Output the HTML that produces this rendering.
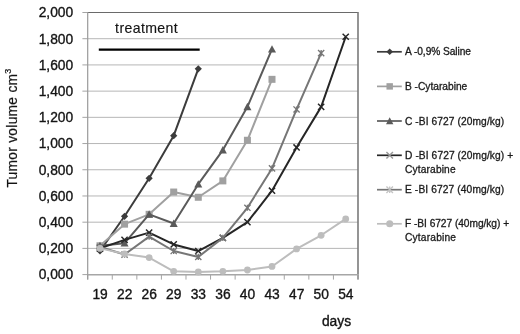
<!DOCTYPE html>
<html><head><meta charset="utf-8"><style>
html,body{margin:0;padding:0;background:#fff;}
body{width:520px;height:334px;overflow:hidden;}
svg{display:block;will-change:transform;filter:blur(0.35px);}
text{font-family:"Liberation Sans",sans-serif;fill:#141414;stroke:#141414;stroke-width:0.35px;}
.ax{font-size:13.8px;}
.lg{font-size:10.2px;fill:#1a1a1a;stroke:#1a1a1a;stroke-width:0.3px;}
.tr{font-size:14.1px;stroke-width:0.15px;}
.yt{font-size:13.8px;letter-spacing:0.27px;stroke-width:0.2px;}
</style></head><body>
<svg width="520" height="334" viewBox="0 0 520 334">
<rect width="520" height="334" fill="#fff"/>
<line x1="87.7" y1="248.39" x2="358.0" y2="248.39" stroke="#b6b6b6" stroke-width="1"/>
<line x1="87.7" y1="222.18" x2="358.0" y2="222.18" stroke="#b6b6b6" stroke-width="1"/>
<line x1="87.7" y1="195.97" x2="358.0" y2="195.97" stroke="#b6b6b6" stroke-width="1"/>
<line x1="87.7" y1="169.76" x2="358.0" y2="169.76" stroke="#b6b6b6" stroke-width="1"/>
<line x1="87.7" y1="143.55" x2="358.0" y2="143.55" stroke="#b6b6b6" stroke-width="1"/>
<line x1="87.7" y1="117.34" x2="358.0" y2="117.34" stroke="#b6b6b6" stroke-width="1"/>
<line x1="87.7" y1="91.13" x2="358.0" y2="91.13" stroke="#b6b6b6" stroke-width="1"/>
<line x1="87.7" y1="64.92" x2="358.0" y2="64.92" stroke="#b6b6b6" stroke-width="1"/>
<line x1="87.7" y1="38.71" x2="358.0" y2="38.71" stroke="#b6b6b6" stroke-width="1"/>
<line x1="82.4" y1="274.60" x2="87.7" y2="274.60" stroke="#a4a4a4" stroke-width="1"/>
<line x1="82.4" y1="248.39" x2="87.7" y2="248.39" stroke="#a4a4a4" stroke-width="1"/>
<line x1="82.4" y1="222.18" x2="87.7" y2="222.18" stroke="#a4a4a4" stroke-width="1"/>
<line x1="82.4" y1="195.97" x2="87.7" y2="195.97" stroke="#a4a4a4" stroke-width="1"/>
<line x1="82.4" y1="169.76" x2="87.7" y2="169.76" stroke="#a4a4a4" stroke-width="1"/>
<line x1="82.4" y1="143.55" x2="87.7" y2="143.55" stroke="#a4a4a4" stroke-width="1"/>
<line x1="82.4" y1="117.34" x2="87.7" y2="117.34" stroke="#a4a4a4" stroke-width="1"/>
<line x1="82.4" y1="91.13" x2="87.7" y2="91.13" stroke="#a4a4a4" stroke-width="1"/>
<line x1="82.4" y1="64.92" x2="87.7" y2="64.92" stroke="#a4a4a4" stroke-width="1"/>
<line x1="82.4" y1="38.71" x2="87.7" y2="38.71" stroke="#a4a4a4" stroke-width="1"/>
<line x1="82.4" y1="12.50" x2="87.7" y2="12.50" stroke="#a4a4a4" stroke-width="1"/>
<line x1="87.70" y1="274.6" x2="87.70" y2="279.6" stroke="#a4a4a4" stroke-width="1"/>
<line x1="112.27" y1="274.6" x2="112.27" y2="279.6" stroke="#a4a4a4" stroke-width="1"/>
<line x1="136.85" y1="274.6" x2="136.85" y2="279.6" stroke="#a4a4a4" stroke-width="1"/>
<line x1="161.42" y1="274.6" x2="161.42" y2="279.6" stroke="#a4a4a4" stroke-width="1"/>
<line x1="185.99" y1="274.6" x2="185.99" y2="279.6" stroke="#a4a4a4" stroke-width="1"/>
<line x1="210.56" y1="274.6" x2="210.56" y2="279.6" stroke="#a4a4a4" stroke-width="1"/>
<line x1="235.14" y1="274.6" x2="235.14" y2="279.6" stroke="#a4a4a4" stroke-width="1"/>
<line x1="259.71" y1="274.6" x2="259.71" y2="279.6" stroke="#a4a4a4" stroke-width="1"/>
<line x1="284.28" y1="274.6" x2="284.28" y2="279.6" stroke="#a4a4a4" stroke-width="1"/>
<line x1="308.85" y1="274.6" x2="308.85" y2="279.6" stroke="#a4a4a4" stroke-width="1"/>
<line x1="333.43" y1="274.6" x2="333.43" y2="279.6" stroke="#a4a4a4" stroke-width="1"/>
<line x1="358.00" y1="274.6" x2="358.00" y2="279.6" stroke="#a4a4a4" stroke-width="1"/>
<path d="M87.7 12.5H358.0" fill="none" stroke="#6a6a6a" stroke-width="1.1"/>
<path d="M358.0 12V274.6" fill="none" stroke="#7a7a7a" stroke-width="1.6"/>
<line x1="358.0" y1="274.6" x2="358.0" y2="279.6" stroke="#8a8a8a" stroke-width="1.4"/>
<line x1="87.7" y1="12" x2="87.7" y2="279.6" stroke="#999" stroke-width="1.2"/>
<line x1="87.7" y1="274.8" x2="358.0" y2="274.8" stroke="#a6a6a6" stroke-width="1.6"/>
<line x1="98.8" y1="49.6" x2="199.7" y2="49.6" stroke="#000" stroke-width="2.2"/>
<path d="M99.99 251.01 L124.56 216.28 L149.13 178.28 L173.70 135.69 L198.28 68.85" stroke="#3c3c3c" stroke-width="2" fill="none" stroke-linejoin="round"/>
<path d="M99.99 247.41L103.59 251.01L99.99 254.61L96.39 251.01Z" fill="#3c3c3c"/>
<path d="M124.56 212.68L128.16 216.28L124.56 219.88L120.96 216.28Z" fill="#3c3c3c"/>
<path d="M149.13 174.68L152.73 178.28L149.13 181.88L145.53 178.28Z" fill="#3c3c3c"/>
<path d="M173.70 132.09L177.30 135.69L173.70 139.29L170.10 135.69Z" fill="#3c3c3c"/>
<path d="M198.28 65.25L201.88 68.85L198.28 72.45L194.68 68.85Z" fill="#3c3c3c"/>
<path d="M99.99 245.77 L124.56 224.15 L149.13 214.32 L173.70 192.04 L198.28 197.28 L222.85 180.90 L247.42 140.27 L272.00 79.34" stroke="#a0a0a0" stroke-width="2" fill="none" stroke-linejoin="round"/>
<rect x="96.49" y="242.27" width="7.00" height="7.00" fill="#a0a0a0"/>
<rect x="121.06" y="220.65" width="7.00" height="7.00" fill="#a0a0a0"/>
<rect x="145.63" y="210.82" width="7.00" height="7.00" fill="#a0a0a0"/>
<rect x="170.20" y="188.54" width="7.00" height="7.00" fill="#a0a0a0"/>
<rect x="194.78" y="193.78" width="7.00" height="7.00" fill="#a0a0a0"/>
<rect x="219.35" y="177.40" width="7.00" height="7.00" fill="#a0a0a0"/>
<rect x="243.92" y="136.77" width="7.00" height="7.00" fill="#a0a0a0"/>
<rect x="268.50" y="75.84" width="7.00" height="7.00" fill="#a0a0a0"/>
<path d="M99.99 245.77 L124.56 243.15 L149.13 214.32 L173.70 223.49 L198.28 184.18 L222.85 150.10 L247.42 106.86 L272.00 49.19" stroke="#5a5a5a" stroke-width="2" fill="none" stroke-linejoin="round"/>
<path d="M99.99 241.77L103.99 249.17L95.99 249.17Z" fill="#5a5a5a"/>
<path d="M124.56 239.15L128.56 246.55L120.56 246.55Z" fill="#5a5a5a"/>
<path d="M149.13 210.32L153.13 217.72L145.13 217.72Z" fill="#5a5a5a"/>
<path d="M173.70 219.49L177.70 226.89L169.70 226.89Z" fill="#5a5a5a"/>
<path d="M198.28 180.18L202.28 187.58L194.28 187.58Z" fill="#5a5a5a"/>
<path d="M222.85 146.10L226.85 153.50L218.85 153.50Z" fill="#5a5a5a"/>
<path d="M247.42 102.86L251.42 110.26L243.42 110.26Z" fill="#5a5a5a"/>
<path d="M272.00 45.19L276.00 52.59L268.00 52.59Z" fill="#5a5a5a"/>
<path d="M99.99 248.39 L124.56 239.87 L149.13 232.66 L173.70 244.46 L198.28 251.01 L222.85 237.91 L247.42 222.18 L272.00 190.73 L296.57 147.48 L321.14 106.86 L345.71 36.74" stroke="#262626" stroke-width="2" fill="none" stroke-linejoin="round"/>
<path d="M96.89 245.29L103.09 251.49M103.09 245.29L96.89 251.49" stroke="#262626" stroke-width="1.45" fill="none"/>
<path d="M121.46 236.77L127.66 242.97M127.66 236.77L121.46 242.97" stroke="#262626" stroke-width="1.45" fill="none"/>
<path d="M146.03 229.56L152.23 235.76M152.23 229.56L146.03 235.76" stroke="#262626" stroke-width="1.45" fill="none"/>
<path d="M170.60 241.36L176.80 247.56M176.80 241.36L170.60 247.56" stroke="#262626" stroke-width="1.45" fill="none"/>
<path d="M195.18 247.91L201.38 254.11M201.38 247.91L195.18 254.11" stroke="#262626" stroke-width="1.45" fill="none"/>
<path d="M219.75 234.81L225.95 241.01M225.95 234.81L219.75 241.01" stroke="#262626" stroke-width="1.45" fill="none"/>
<path d="M244.32 219.08L250.52 225.28M250.52 219.08L244.32 225.28" stroke="#262626" stroke-width="1.45" fill="none"/>
<path d="M268.90 187.63L275.10 193.83M275.10 187.63L268.90 193.83" stroke="#262626" stroke-width="1.45" fill="none"/>
<path d="M293.47 144.38L299.67 150.58M299.67 144.38L293.47 150.58" stroke="#262626" stroke-width="1.45" fill="none"/>
<path d="M318.04 103.76L324.24 109.96M324.24 103.76L318.04 109.96" stroke="#262626" stroke-width="1.45" fill="none"/>
<path d="M342.61 33.64L348.81 39.84M348.81 33.64L342.61 39.84" stroke="#262626" stroke-width="1.45" fill="none"/>
<path d="M99.99 247.08 L124.56 254.55 L149.13 236.60 L173.70 251.01 L198.28 256.91 L222.85 237.91 L247.42 207.76 L272.00 168.45 L296.57 109.48 L321.14 53.13" stroke="#767676" stroke-width="2" fill="none" stroke-linejoin="round"/>
<path d="M96.89 243.98L103.09 250.18M103.09 243.98L96.89 250.18M99.99 243.98L99.99 250.18" stroke="#767676" stroke-width="1.35" fill="none"/>
<path d="M121.46 251.45L127.66 257.65M127.66 251.45L121.46 257.65M124.56 251.45L124.56 257.65" stroke="#767676" stroke-width="1.35" fill="none"/>
<path d="M146.03 233.50L152.23 239.70M152.23 233.50L146.03 239.70M149.13 233.50L149.13 239.70" stroke="#767676" stroke-width="1.35" fill="none"/>
<path d="M170.60 247.91L176.80 254.11M176.80 247.91L170.60 254.11M173.70 247.91L173.70 254.11" stroke="#767676" stroke-width="1.35" fill="none"/>
<path d="M195.18 253.81L201.38 260.01M201.38 253.81L195.18 260.01M198.28 253.81L198.28 260.01" stroke="#767676" stroke-width="1.35" fill="none"/>
<path d="M219.75 234.81L225.95 241.01M225.95 234.81L219.75 241.01M222.85 234.81L222.85 241.01" stroke="#767676" stroke-width="1.35" fill="none"/>
<path d="M244.32 204.66L250.52 210.86M250.52 204.66L244.32 210.86M247.42 204.66L247.42 210.86" stroke="#767676" stroke-width="1.35" fill="none"/>
<path d="M268.90 165.35L275.10 171.55M275.10 165.35L268.90 171.55M272.00 165.35L272.00 171.55" stroke="#767676" stroke-width="1.35" fill="none"/>
<path d="M293.47 106.38L299.67 112.58M299.67 106.38L293.47 112.58M296.57 106.38L296.57 112.58" stroke="#767676" stroke-width="1.35" fill="none"/>
<path d="M318.04 50.03L324.24 56.23M324.24 50.03L318.04 56.23M321.14 50.03L321.14 56.23" stroke="#767676" stroke-width="1.35" fill="none"/>
<path d="M99.99 248.39 L124.56 253.89 L149.13 257.56 L173.70 271.32 L198.28 271.98 L222.85 271.32 L247.42 270.01 L272.00 266.47 L296.57 248.91 L321.14 235.29 L345.71 218.90" stroke="#bdbdbd" stroke-width="2" fill="none" stroke-linejoin="round"/>
<circle cx="99.99" cy="248.39" r="3.40" fill="#bdbdbd"/>
<circle cx="124.56" cy="253.89" r="3.40" fill="#bdbdbd"/>
<circle cx="149.13" cy="257.56" r="3.40" fill="#bdbdbd"/>
<circle cx="173.70" cy="271.32" r="3.40" fill="#bdbdbd"/>
<circle cx="198.28" cy="271.98" r="3.40" fill="#bdbdbd"/>
<circle cx="222.85" cy="271.32" r="3.40" fill="#bdbdbd"/>
<circle cx="247.42" cy="270.01" r="3.40" fill="#bdbdbd"/>
<circle cx="272.00" cy="266.47" r="3.40" fill="#bdbdbd"/>
<circle cx="296.57" cy="248.91" r="3.40" fill="#bdbdbd"/>
<circle cx="321.14" cy="235.29" r="3.40" fill="#bdbdbd"/>
<circle cx="345.71" cy="218.90" r="3.40" fill="#bdbdbd"/>
<line x1="377" y1="51.8" x2="401.8" y2="51.8" stroke="#3c3c3c" stroke-width="1.7"/>
<path d="M389.70 48.49L393.01 51.80L389.70 55.11L386.39 51.80Z" fill="#3c3c3c"/>
<line x1="377" y1="86.4" x2="401.8" y2="86.4" stroke="#a0a0a0" stroke-width="1.7"/>
<rect x="386.48" y="83.18" width="6.44" height="6.44" fill="#a0a0a0"/>
<line x1="377" y1="121.0" x2="401.8" y2="121.0" stroke="#5a5a5a" stroke-width="1.7"/>
<path d="M389.70 117.32L393.38 124.13L386.02 124.13Z" fill="#5a5a5a"/>
<line x1="377" y1="155.3" x2="401.8" y2="155.3" stroke="#262626" stroke-width="1.7"/>
<path d="M386.44 152.05L392.95 158.56M392.95 152.05L386.44 158.56" stroke="#9a9a9a" stroke-width="1.45" fill="none"/>
<line x1="377" y1="189.7" x2="401.8" y2="189.7" stroke="#767676" stroke-width="1.7"/>
<path d="M386.44 186.44L392.95 192.95M392.95 186.44L386.44 192.95M389.70 186.44L389.70 192.95" stroke="#c4c4c4" stroke-width="1.35" fill="none"/>
<line x1="377" y1="223.8" x2="401.8" y2="223.8" stroke="#bdbdbd" stroke-width="1.7"/>
<circle cx="389.70" cy="223.80" r="3.57" fill="#bdbdbd"/>
<text x="405" y="55.3" class="lg" textLength="65.97">A -0,9% Saline</text>
<text x="405" y="89.9" class="lg" textLength="62.28">B -Cytarabine</text>
<text x="405" y="124.5" class="lg" textLength="99.14">C -BI 6727 (20mg/kg)</text>
<text x="405" y="158.8" class="lg" textLength="108.19">D -BI 6727 (20mg/kg) +</text>
<text x="405" y="172.6" class="lg" textLength="50.60">Cytarabine</text>
<text x="405" y="193.2" class="lg" textLength="99.15">E -BI 6727 (40mg/kg)</text>
<text x="405" y="227.3" class="lg" textLength="104.08">F -BI 6727 (40mg/kg) +</text>
<text x="405" y="241.1" class="lg" textLength="50.99">Cytarabine</text>
<text x="73.2" y="279.45" class="ax" text-anchor="end">0,000</text>
<text x="73.2" y="253.24" class="ax" text-anchor="end">0,200</text>
<text x="73.2" y="227.03" class="ax" text-anchor="end">0,400</text>
<text x="73.2" y="200.82" class="ax" text-anchor="end">0,600</text>
<text x="73.2" y="174.61" class="ax" text-anchor="end">0,800</text>
<text x="73.2" y="148.40" class="ax" text-anchor="end">1,000</text>
<text x="73.2" y="122.19" class="ax" text-anchor="end">1,200</text>
<text x="73.2" y="95.98" class="ax" text-anchor="end">1,400</text>
<text x="73.2" y="69.77" class="ax" text-anchor="end">1,600</text>
<text x="73.2" y="43.56" class="ax" text-anchor="end">1,800</text>
<text x="73.2" y="17.35" class="ax" text-anchor="end">2,000</text>
<text x="100.09" y="299.3" class="ax" text-anchor="middle">19</text>
<text x="124.66" y="299.3" class="ax" text-anchor="middle">22</text>
<text x="149.23" y="299.3" class="ax" text-anchor="middle">26</text>
<text x="173.80" y="299.3" class="ax" text-anchor="middle">29</text>
<text x="198.38" y="299.3" class="ax" text-anchor="middle">33</text>
<text x="222.95" y="299.3" class="ax" text-anchor="middle">36</text>
<text x="247.52" y="299.3" class="ax" text-anchor="middle">40</text>
<text x="272.10" y="299.3" class="ax" text-anchor="middle">43</text>
<text x="296.67" y="299.3" class="ax" text-anchor="middle">47</text>
<text x="321.24" y="299.3" class="ax" text-anchor="middle">50</text>
<text x="345.81" y="299.3" class="ax" text-anchor="middle">54</text>
<text x="336.5" y="326.2" class="ax" text-anchor="middle">days</text>
<text x="146.4" y="32.9" class="tr" text-anchor="middle" textLength="62.6">treatment</text>
<text transform="translate(16.6,187.6) rotate(-90)" class="yt">Tumor volume cm<tspan font-size="9" dy="-5.5" letter-spacing="0">3</tspan></text>
</svg>
</body></html>
